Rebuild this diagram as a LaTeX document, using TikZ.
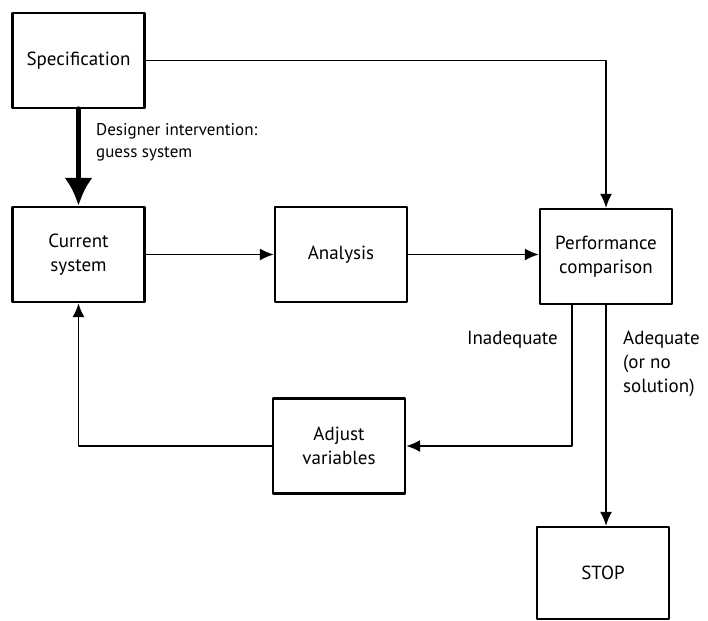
\documentclass[tikz,border=0pt]{standalone}
\usepackage{fontspec}
\setmainfont{PT Sans}
\usetikzlibrary{arrows.meta}

\begin{document}
\begin{tikzpicture}[
			x=1pt, y=-1pt,
			every node/.style={font=\fontsize{19}{24}\selectfont},
			box/.style={draw, line width=2.2pt, minimum width=132pt, minimum height=95pt, align=center},
			link/.style={line width=1.8pt, -{Latex[length=14pt, width=12pt]}},
			bigarrow/.style={line width=5.5pt, -{Latex[length=28pt, width=28pt]}},
			lbl/.style={align=left, inner sep=0pt},
			line cap=round,
			line join=round
			]
			\useasboundingbox (0,0) rectangle (708,620);
			
			% Boxes
			\node[box] (spec) at (78.5,60.5) {Specification};
			\node[box] (current) at (78.5,254.5) {Current\\system};
			\node[box] (analysis) at (341,254.5) {Analysis};
			\node[box] (perf) at (606,256.5) {Performance\\comparison};
			\node[box] (adjust) at (339,446) {Adjust\\variables};
			\node[box, minimum height=92pt] (stop) at (603,573) {STOP};
			
			% Designer guess
			\draw[bigarrow] (spec.south) -- (current.north);
			\node[lbl, anchor=west, font=\fontsize{17}{22}\selectfont] (guess) at (96,142) {Designer intervention:\\guess system};
			
			% Main loop
			\draw[link] (spec.east) -| (perf.north);
			\draw[link] (current.east) -- (current.east -| analysis.west);
			\draw[link] (analysis.east) -- (analysis.east -| perf.west);
			\draw[link] ([xshift=-34pt]perf.south) |- (adjust.east);
			\draw[link] (adjust.west) -| (current.south);
			\draw[link] (perf.south) -- (perf.south |- stop.north);
			
			% Outcomes
			\node[lbl, anchor=east] (inadequate) at (558,340) {Inadequate};
			\node[lbl, anchor=north west] (adequate) at (623,331) {Adequate\\(or no\\solution)};
		\end{tikzpicture}
\end{document}
